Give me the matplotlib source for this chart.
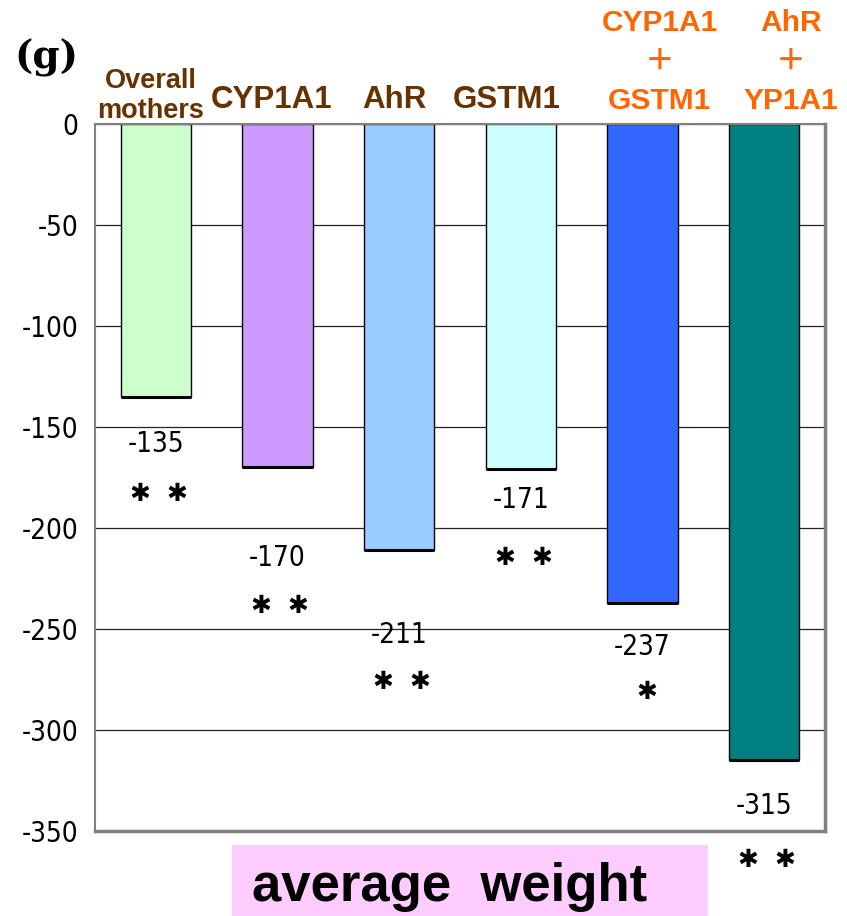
import matplotlib
matplotlib.use("Agg")
import matplotlib.pyplot as plt
from matplotlib.transforms import blended_transform_factory
from matplotlib.patches import Rectangle

categories = ["Overall\nmothers", "CYP1A1", "AhR", "GSTM1", "CYP1A1\n＋\nGSTM1", "AhR\n＋\nYP1A1"]
values = [-135, -170, -211, -171, -237, -315]
signif = ["✱  ✱", "✱  ✱", "✱  ✱", "✱  ✱", "✱", "✱  ✱"]
yticks = [0, -50, -100, -150, -200, -250, -300, -350]
bar_colors = ["#CCFFCC", "#CC99FF", "#99CCFF", "#CCFFFF", "#3366FF", "#008080"]
label_colors = ["#663300", "#663300", "#663300", "#663300", "#FF6600", "#FF6600"]

narrow_fp = dict(family="DejaVu Sans", stretch="condensed")
bold = ["Liberation Sans", "Noto Sans CJK JP", "DejaVu Sans"]

fig = plt.figure(figsize=(8.47, 9.16), dpi=100)
ax = fig.add_axes([95/847, 1-831/916, (825-95)/847, (831-124)/916])

x = list(range(len(values)))
ax.set_axisbelow(True)
ax.yaxis.grid(True, color="#222222", lw=0.9)
ax.bar(x, values, width=0.58, color=bar_colors, edgecolor="black", lw=1.0, zorder=2)
ax.hlines(values, [i - 0.29 for i in x], [i + 0.29 for i in x], color="black", lw=2.2, zorder=3)

ax.set_xlim(-0.5, 5.5)
ax.set_ylim(-350, 0)
ax.set_yticks(yticks)
ax.set_yticklabels([str(v) for v in yticks], fontsize=20, **narrow_fp)
ax.tick_params(axis="y", length=0, pad=12)
ax.set_xticks([])
for s in ["left", "top"]:
    ax.spines[s].set_color("#808080")
    ax.spines[s].set_linewidth(1.5)
for s in ["right", "bottom"]:
    ax.spines[s].set_color("#808080")
    ax.spines[s].set_linewidth(2.5)

# value labels and significance marks (offsets in points below bar end)
val_off = [34, 65, 61, 22, 32, 33]
sig_off = [70, 100, 95, 64, 64, 72]
for i, (v, o1, o2, s) in enumerate(zip(values, val_off, sig_off, signif)):
    ax.annotate(str(v), (i, v), xytext=(0, -o1), textcoords="offset points",
                ha="center", va="center", fontsize=20, annotation_clip=False, **narrow_fp)
    ax.annotate(s, (i, v), xytext=(3 if s == "✱" else 2, -o2), textcoords="offset points",
                ha="center", va="center", fontsize=18, family="DejaVu Sans",
                annotation_clip=False)

# category labels above the plot
trans = blended_transform_factory(ax.transData, fig.transFigure)
lab_x = [-0.04, 0.95, 1.96, 2.88, 4.14, 5.22]
lab_y = [1-96/916, 1-100/916, 1-100/916, 1-100/916, 1-62/916, 1-62/916]
lab_size = [19.5, 22.5, 22.5, 22.5, 21.5, 21.5]
for lx, ly, txt, c, fs in zip(lab_x, lab_y, categories, label_colors, lab_size):
    fig.text(lx, ly, txt, transform=trans, ha="center", va="center", color=c,
             fontsize=fs, fontweight="bold", family=bold,
             linespacing=1.25 if "\n＋" not in txt else 1.5)

fig.text(14/847, 1-58/916, "(g)", fontsize=28, fontweight="bold", family=["DejaVu Serif"],
         ha="left", va="center")

fig.patches.append(Rectangle((232/847, 0), (708-232)/847, (916-845)/916, transform=fig.transFigure,
                             facecolor="#FFCCFF", edgecolor="none", zorder=0))
fig.text(252/847, 1-887/916, "average  weight", fontsize=38, fontweight="bold", family=bold,
         ha="left", va="center")

fig.savefig("out.png", dpi=100)
